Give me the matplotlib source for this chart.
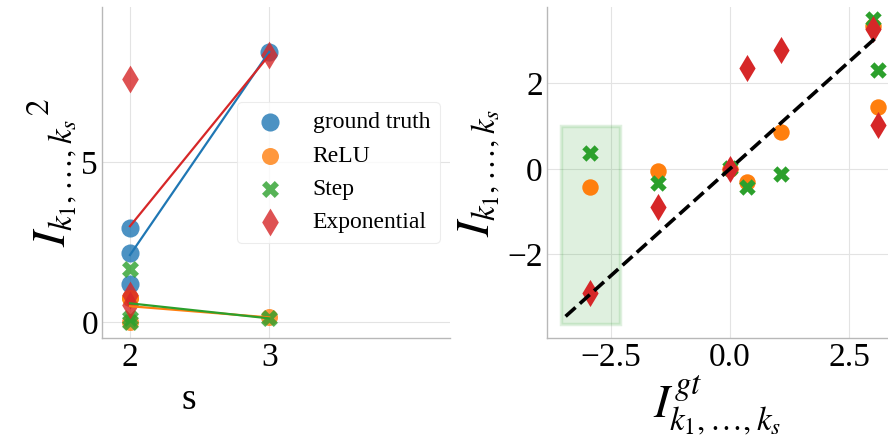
import matplotlib
matplotlib.use("Agg")
import matplotlib.pyplot as plt
import numpy as np
from matplotlib.patches import Rectangle

# ---- left panel data ----
s_gt = [2, 2, 2, 3]
v_gt = [2.95, 2.15, 1.2, 8.45]
s_relu = [2, 2, 2, 3]
v_relu = [0.75, 0.75, 0.0, 0.15]
s_step = [2, 2, 2, 3]
v_step = [1.65, 0.12, 0.0, 0.12]
s_exp = [2, 2, 2, 3]
v_exp = [7.6, 0.85, 0.55, 8.35]

# ---- right panel data ----
gt = [-2.94, -1.51, 0.0, 0.36, 1.07, 3.0, 3.12]
relu = [-0.43, -0.05, 0.0, -0.32, 0.87, 3.35, 1.45]
step = [0.38, -0.34, 0.02, -0.42, -0.11, 3.5, 2.32]
expo = [-2.9, -0.9, 0.0, 2.35, 2.78, 3.27, 1.03]
diag = [-3.45, 3.1]
box_x = [-3.55, -2.31]
box_y = [-3.63, 1.0]

labels = ["ground truth", "ReLU", "Step", "Exponential"]
C_BLUE, C_ORANGE, C_GREEN, C_RED = "#1f77b4", "#ff7f0e", "#2ca02c", "#d62728"

plt.rcParams["font.family"] = ["Liberation Serif", "DejaVu Serif"]
plt.rcParams["mathtext.fontset"] = "stix"

fig = plt.figure(figsize=(8.88, 4.45), dpi=100)
ax1 = fig.add_axes([0.115, 0.240, 0.392, 0.744])
ax2 = fig.add_axes([0.616, 0.240, 0.384, 0.744])

for ax in (ax1, ax2):
    ax.grid(True, color="#e3e3e3", lw=0.8)
    ax.set_axisbelow(True)
    for sp in ("top", "right"):
        ax.spines[sp].set_visible(False)
    for sp in ("left", "bottom"):
        ax.spines[sp].set_color("#b8b8b8")
        ax.spines[sp].set_linewidth(1.0)
    ax.tick_params(length=0, labelsize=24, pad=3)

# left
def mean_by_s(s, v):
    xs = sorted(set(s))
    return xs, [np.mean([vv for ss, vv in zip(s, v) if ss == x]) for x in xs]

ax1.scatter(s_gt, v_gt, s=170, marker="o", color=C_BLUE, alpha=0.8, label=labels[0], lw=0)
ax1.scatter(s_relu, v_relu, s=150, marker="o", color=C_ORANGE, alpha=0.8, label=labels[1], lw=0)
ax1.scatter(s_step, v_step, s=150, marker="X", color=C_GREEN, alpha=0.8, label=labels[2], lw=0)
ax1.scatter(s_exp, v_exp, s=200, marker="d", color=C_RED, alpha=0.8, label=labels[3], lw=0)
for (s, v), c in zip([(s_gt, v_gt), (s_relu, v_relu), (s_step, v_step), (s_exp, v_exp)],
                     [C_BLUE, C_ORANGE, C_GREEN, C_RED]):
    xs, ms = mean_by_s(s, v)
    ax1.plot(xs, ms, color=c, lw=1.6, zorder=3)
ax1.set_xlim(1.8, 4.3)
ax1.set_ylim(-0.5, 9.85)
ax1.set_xticks([2, 3])
ax1.set_yticks([0, 5])
ax1.set_xlabel("s", fontsize=27)
ax1.xaxis.set_label_coords((189 - 102) / 348, -0.135)
ax1.set_ylabel(r"${I_{k_1,\ldots,k_s}}^2$", fontsize=34, labelpad=2)
leg = ax1.legend(loc="center right", bbox_to_anchor=(0.97, 0.5), borderaxespad=0,
                 fontsize=17, frameon=True, labelspacing=0.5)
leg.get_frame().set_edgecolor("#e8e8e8")
leg.get_frame().set_linewidth(0.8)

# right
ax2.add_patch(Rectangle((box_x[0], box_y[0]), box_x[1] - box_x[0], box_y[1] - box_y[0],
                        facecolor=C_GREEN, alpha=0.15, edgecolor=C_GREEN, lw=2.5, zorder=1))
ax2.scatter(gt, relu, s=140, marker="o", color=C_ORANGE, lw=0, zorder=2, clip_on=False)
ax2.scatter(gt, step, s=140, marker="X", color=C_GREEN, lw=0, zorder=2, clip_on=False)
ax2.scatter(gt, expo, s=190, marker="d", color=C_RED, lw=0, zorder=2, clip_on=False)
ax2.plot(diag, diag, "k--", lw=2.6, zorder=3)
ax2.set_xlim(-3.84, 3.32)
ax2.set_ylim(-3.96, 3.78)
ax2.set_xticks([-2.5, 0.0, 2.5])
ax2.set_yticks([-2, 0, 2])
ax2.set_xticklabels(["\u22122.5", "0.0", "2.5"])
ax2.set_yticklabels(["\u22122", "0", "2"])
ax2.set_xlabel(r"$I^{gt}_{k_1,\ldots,k_s}$", fontsize=34, labelpad=0)
ax2.set_ylabel(r"$I_{k_1,\ldots,k_s}$", fontsize=34, labelpad=4)

fig.savefig("out.png", dpi=100)
